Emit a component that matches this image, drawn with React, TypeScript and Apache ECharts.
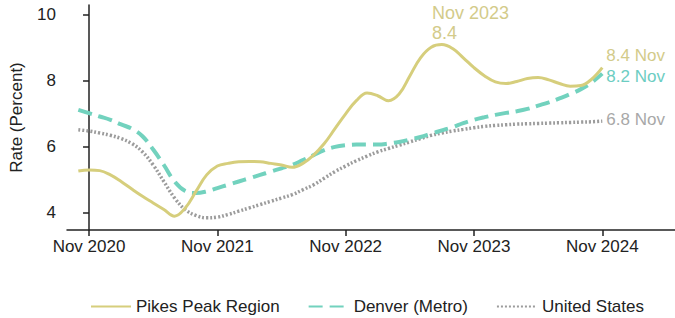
import React, { useEffect, useRef } from "react";
import * as echarts from "echarts";

// month index: 0 = Nov 2020 ; data from Oct 2020 (-1) to Nov 2024 (48)
const startMonth = -1;
const tickMonths = [0, 12, 24, 36, 48];
const tickLabels = ["Nov 2020", "Nov 2021", "Nov 2022", "Nov 2023", "Nov 2024"];
const yTicks = [4, 6, 8, 10];

const pikesPeak = [
  5.27, 5.3, 5.28, 5.15, 4.95, 4.72, 4.5, 4.3, 4.1, 3.9, 4.15, 4.65, 5.15,
  5.42, 5.5, 5.55, 5.56, 5.55, 5.5, 5.45, 5.38, 5.5, 5.75, 6.1, 6.55, 7.0,
  7.4, 7.63, 7.55, 7.4, 7.6, 8.15, 8.7, 9.02, 9.1, 8.98, 8.7, 8.4, 8.15,
  7.97, 7.92, 7.98, 8.07, 8.1, 8.03, 7.92, 7.84, 7.86, 8.05, 8.4,
];
const denver = [
  7.12, 7.02, 6.92, 6.82, 6.68, 6.55, 6.32, 5.92, 5.45, 4.95, 4.66, 4.6,
  4.65, 4.75, 4.85, 4.95, 5.05, 5.15, 5.25, 5.35, 5.45, 5.6, 5.75, 5.9, 6.0,
  6.05, 6.07, 6.07, 6.07, 6.1, 6.15, 6.22, 6.3, 6.4, 6.5, 6.6, 6.72, 6.82,
  6.9, 6.97, 7.03, 7.08, 7.15, 7.25, 7.35, 7.47, 7.6, 7.75, 7.95, 8.22,
];
const unitedStates = [
  6.52, 6.48, 6.42, 6.35, 6.25, 6.1, 5.85, 5.45, 4.95, 4.45, 4.1, 3.92,
  3.85, 3.87, 3.95, 4.05, 4.15, 4.25, 4.35, 4.45, 4.55, 4.7, 4.85, 5.05,
  5.25, 5.42, 5.58, 5.72, 5.85, 5.95, 6.05, 6.15, 6.25, 6.35, 6.42, 6.48,
  6.53, 6.58, 6.62, 6.65, 6.67, 6.69, 6.7, 6.71, 6.72, 6.73, 6.74, 6.75,
  6.76, 6.78,
];
const seriesNames = ["Pikes Peak Region", "Denver (Metro)", "United States"];
const annotationText = "Nov 2023\n8.4";
const endSuffix = " Nov";

const FONT = "Liberation Sans, Arial, sans-serif";
const colors = ["#d6ce7c", "#72d2be", "#9c9c9c"];
const labelColors = ["#d3cb8a", "#6ccdc2", "#a8a8a8"];

const toPairs = (vals: number[]) => vals.map((v, i) => [startMonth + i, v]);

export default function App() {
  const ref = useRef<HTMLDivElement>(null);
  useEffect(() => {
    if (!ref.current) return;
    const chart = echarts.init(ref.current, null, { renderer: "svg" });
    const endLabel = (idx: number, offset: number[]) => ({
      show: true,
      formatter: (p: any) => `${Number(p.value[1]).toFixed(1)}${endSuffix}`,
      color: labelColors[idx],
      fontFamily: FONT,
      fontSize: 17,
      lineHeight: 14,
      distance: 4,
      offset,
    });
    chart.setOption({
      animation: false,
      grid: { left: 67, right: 0, top: 5, bottom: 88, containLabel: false },
      legend: {
        left: 85,
        top: 293,
        itemWidth: 40,
        itemHeight: 14,
        itemGap: 28,
        itemStyle: { opacity: 0 },
        textStyle: { fontFamily: FONT, fontSize: 17, color: "#222" },
        data: seriesNames,
      },
      xAxis: {
        type: "value",
        min: -2.06,
        max: 54.8,
        axisLine: { show: true, onZero: false, lineStyle: { color: "#222", width: 1.5 } },
        axisTick: { show: true, customValues: tickMonths, length: 6, lineStyle: { color: "#222", width: 1.5 } },
        axisLabel: {
          customValues: tickMonths,
          formatter: (v: number) => tickLabels[tickMonths.indexOf(Math.round(v))] ?? "",
          fontFamily: FONT,
          fontSize: 17,
          color: "#222",
          margin: 8,
        },
        splitLine: { show: false },
      },
      yAxis: {
        type: "value",
        min: 3.48,
        max: 10.3,
        name: "Rate (Percent)",
        nameLocation: "middle",
        nameGap: 42,
        nameTextStyle: { fontFamily: FONT, fontSize: 17, color: "#222" },
        axisLine: { show: true, lineStyle: { color: "#222", width: 1.5 } },
        axisTick: { show: true, customValues: yTicks, length: 6, lineStyle: { color: "#222", width: 1.5 } },
        axisLabel: {
          customValues: yTicks,
          fontFamily: FONT,
          fontSize: 17,
          color: "#222",
          margin: 11,
        },
        splitLine: { show: false },
      },
      graphic: [
        {
          type: "text",
          left: 432,
          top: 3,
          style: {
            text: annotationText,
            fontFamily: FONT,
            fontSize: 18,
            lineHeight: 20,
            fill: labelColors[0],
            align: "center",
            width: 84,
          },
        },
      ],
      series: [
        {
          name: seriesNames[0],
          type: "line",
          data: toPairs(pikesPeak),
          smooth: 0.4,
          symbol: "none",
          lineStyle: { color: colors[0], width: 3 },
          itemStyle: { color: colors[0] },
          endLabel: endLabel(0, [0, -12]),
          z: 3,
        },
        {
          name: seriesNames[1],
          type: "line",
          data: toPairs(denver),
          smooth: 0.4,
          symbol: "none",
          lineStyle: { color: colors[1], width: 4, type: [14, 7] },
          itemStyle: { color: colors[1] },
          endLabel: endLabel(1, [0, 3]),
          z: 2,
        },
        {
          name: seriesNames[2],
          type: "line",
          data: toPairs(unitedStates),
          smooth: 0.4,
          symbol: "none",
          lineStyle: { color: colors[2], width: 3.5, type: [2, 2] },
          itemStyle: { color: colors[2] },
          endLabel: endLabel(2, [0, -2]),
          z: 1,
        },
      ],
    });
    return () => chart.dispose();
  }, []);
  return (
    <div
      ref={ref}
      style={{ position: "fixed", left: 0, top: 0, width: 675, height: 318, background: "#fff" }}
    />
  );
}
